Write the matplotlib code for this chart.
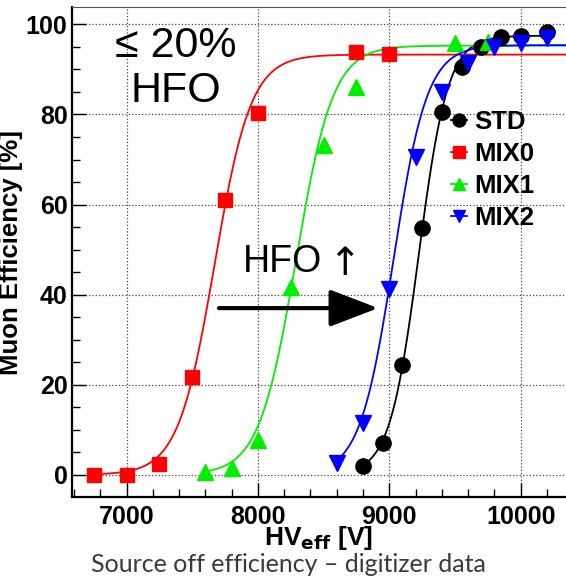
import numpy as np
import matplotlib.pyplot as plt
from matplotlib.ticker import MultipleLocator

plt.rcParams['font.family'] = ['Liberation Sans', 'DejaVu Sans']

# efficiency points (HV_eff in V, efficiency in %)
hv_std = [8800, 8950, 9100, 9250, 9400, 9550, 9700, 9850, 10000, 10200]
eff_std = [1.9, 7.1, 24.3, 54.7, 80.5, 90.6, 95.1, 97.3, 97.4, 98.4]

hv_mix0 = [6750, 7000, 7250, 7500, 7750, 8000, 8750, 9000]
eff_mix0 = [0.0, 0.0, 2.3, 21.6, 61.0, 80.3, 93.8, 93.4]

hv_mix1 = [7600, 7800, 8000, 8250, 8500, 8750, 9500, 9750]
eff_mix1 = [0.5, 1.4, 7.7, 41.6, 73.2, 86.2, 95.8, 96.0]

hv_mix2 = [8600, 8800, 9000, 9200, 9400, 9600, 9800, 10000, 10200]
eff_mix2 = [2.5, 11.4, 41.2, 70.6, 85.1, 91.4, 95.1, 95.8, 96.9]

# sigmoid fit params: Emax [%], lambda [1/V], HV50 [V]
fit_std = [97.5, 0.0090, 9224]
fit_mix0 = [93.3, 0.0072, 7670]
fit_mix1 = [95.3, 0.0071, 8290]
fit_mix2 = [95.4, 0.0078, 9032]

labels = ['STD', 'MIX0', 'MIX1', 'MIX2']

XMIN, XMAX = 6583, 10345


def sigmoid(hv, emax, lam, hv50):
    return emax / (1 + np.exp(-lam * (hv - hv50)))


fig = plt.figure(figsize=(5.66, 5.77), dpi=100)
ax = fig.add_axes([0.1267, 0.139, 0.8733, 0.8483])

series = [
    (hv_std, eff_std, fit_std, 'black', 'o', 11, hv_std[-1]),
    (hv_mix0, eff_mix0, fit_mix0, '#ff0000', 's', 10, XMAX),
    (hv_mix1, eff_mix1, fit_mix1, '#00ee00', '^', 11, XMAX),
    (hv_mix2, eff_mix2, fit_mix2, '#0000ff', 'v', 11, XMAX),
]

handles = []
for (hv, eff, fit, col, mk, ms, hv_end), lab in zip(series, labels):
    xs = np.linspace(hv[0], hv_end, 400)
    ax.plot(xs, sigmoid(xs, *fit), color=col, lw=1.3, zorder=2)
    ax.plot(hv, eff, ls='none', marker=mk, ms=ms, color=col, mec=col, zorder=3)
    h, = ax.plot([], [], color=col, lw=1.3, marker=mk, ms=ms * 0.85, mec=col)
    handles.append(h)

ax.set_xlim(XMIN, XMAX)
ax.set_ylim(-4.9, 103.8)
ax.xaxis.set_major_locator(MultipleLocator(1000))
ax.xaxis.set_minor_locator(MultipleLocator(200))
ax.yaxis.set_major_locator(MultipleLocator(20))
ax.yaxis.set_minor_locator(MultipleLocator(5))
ax.tick_params(which='both', direction='in', top=False, right=False)
ax.tick_params(which='major', length=10, width=1)
ax.tick_params(which='minor', length=6, width=1)
ax.tick_params(axis='x', which='major', labelsize=18, pad=6)
ax.tick_params(axis='y', which='major', labelsize=18, pad=3)
for t in ax.get_xticklabels() + ax.get_yticklabels():
    t.set_fontweight('bold')
ax.grid(True, which='major', ls=':', color='#444444', lw=0.9)
ax.spines['right'].set_visible(False)
for s in ['left', 'bottom']:
    ax.spines[s].set_linewidth(1.6)
ax.spines['top'].set_color('#555555')

ax.set_xlabel('HV$_{\\mathbf{eff}}$ [V]', fontsize=19, fontweight='bold', labelpad=-4)
ax.set_ylabel('Muon Efficiency [%]', fontsize=18.5, fontweight='bold', labelpad=2)

ax.text(7377, 92.8, '\u2264 20%', fontsize=31, ha='center', va='baseline')
ax.text(7377, 82.8, 'HFO', fontsize=31, ha='center', va='baseline')
ax.text(7887, 45.1, 'HFO', fontsize=27, ha='left', va='baseline')
ax.text(8655, 44.4, '\u2191', fontsize=28, family='DejaVu Sans',
        ha='center', va='baseline')
ax.annotate('', xy=(8915, 37.0), xytext=(7704, 37.0),
            arrowprops=dict(arrowstyle='-|>,head_length=3.0,head_width=1.15',
                            color='black', lw=3, shrinkA=0, shrinkB=0))

ax.legend(handles, labels, loc='upper left', bbox_to_anchor=(0.7735, 0.832),
          bbox_transform=fig.transFigure, frameon=False, borderpad=0,
          handlelength=0.65, handletextpad=0.25, labelspacing=0.32,
          prop={'weight': 'bold', 'size': 18.5})

fig.text(0.51, 0.021, 'Source off efficiency \u2013 digitizer data',
         family=['Lato', 'DejaVu Sans'], fontweight='normal', fontsize=18,
         color='#3a3a3a', ha='center', va='center')

fig.savefig('out.png', dpi=100)
